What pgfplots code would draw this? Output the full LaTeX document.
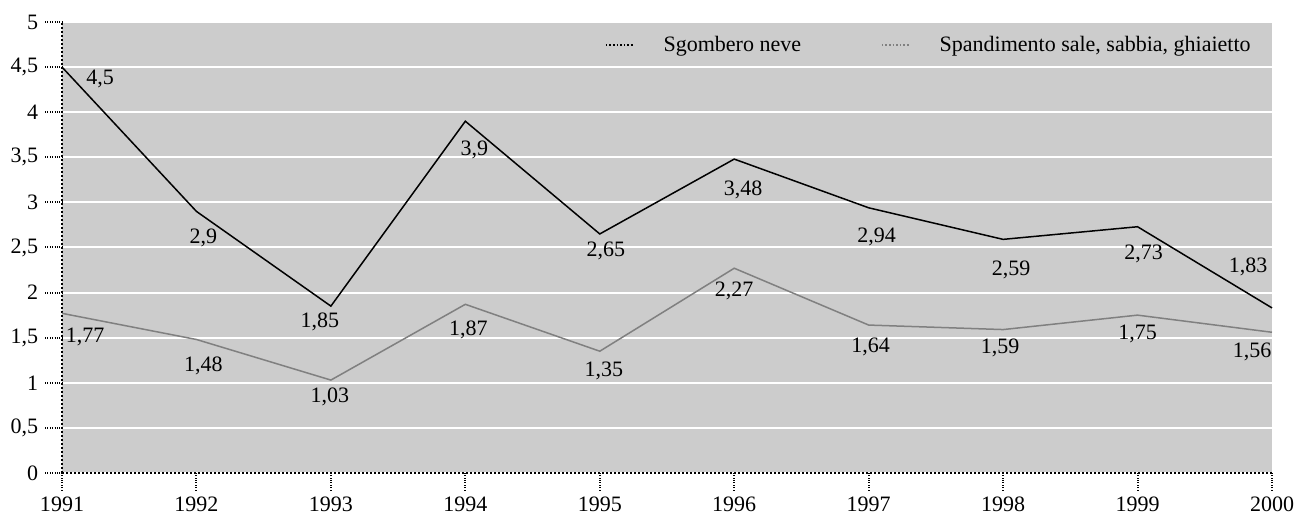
\documentclass[border=0pt]{standalone}
\usepackage{pgfplots}
\pgfplotsset{compat=1.18}
\usepackage{pgfplotstable}
\usepackage{fontspec}
\setmainfont{Liberation Serif}
\definecolor{bg}{RGB}{204,204,204}
\definecolor{ln2}{RGB}{128,128,128}

\pgfplotstableread{
x y dx dy
1991 4.5 19 -6
1992 2.9 3.5 -13.5
1993 1.85 -5.5 -8
1994 3.9 4.5 -14.5
1995 2.65 3 -8.5
1996 3.48 4.5 -15.5
1997 2.94 4 -14.5
1998 2.59 4 -15.5
1999 2.73 3 -13.5
2000 1.83 -12 20.5
}\sgombero

\pgfplotstableread{
x y dx dy
1991 1.77 11.5 -12
1992 1.48 3.5 -13
1993 1.03 -0.5 -8.5
1994 1.87 1.5 -13
1995 1.35 2 -10
1996 2.27 0 -11.5
1997 1.64 1 -11
1998 1.59 -1.5 -9
1999 1.75 0 -9.5
2000 1.56 -10 -10
}\spandimento

\begin{document}
\begin{tikzpicture}
\begin{axis}[
  scale only axis, width=605pt, height=225.5pt,
  xmin=1991, xmax=2000, ymin=0, ymax=5,
  xtick={1991,1992,1993,1994,1995,1996,1997,1998,1999,2000},
  ytick={0,0.5,1,1.5,2,2.5,3,3.5,4,4.5,5},
  axis x line=bottom, axis y line=left,
  axis line style={-, black, densely dotted, line width=1pt},
  tick align=outside, major tick length=8.5pt,
  tick style={black, densely dotted, line width=1pt},
  ymajorgrids, grid style={white, line width=1pt, solid},
  axis background/.style={fill=bg},
  clip=false,
  tick label style={font=\fontsize{11}{13}\selectfont},
  /pgf/number format/use comma,
  /pgf/number format/1000 sep={},
  /pgf/number format/assume math mode=true,
  legend style={at={(rel axis cs:0.986,0.949)}, anchor=east, draw=none, fill=none,
    inner sep=0pt, font=\fontsize{11}{13}\selectfont,
    /tikz/every odd column/.append style={column sep=13pt},
    /tikz/every even column/.append style={column sep=38pt}},
  legend columns=2,
  legend cell align=left,
  legend image code/.code={\draw[#1, densely dotted, line width=0.8pt] (0pt,0pt) -- (13.5pt,0pt);},
  nodes near coords style={anchor=center, font=\fontsize{11}{13}\selectfont, text=black},
]
\addplot[black, line width=0.75pt,
  nodes near coords,
  visualization depends on={\thisrow{dx}\as\dx},
  visualization depends on={\thisrow{dy}\as\dy},
  every node near coord/.append style={xshift=\dx pt, yshift=\dy pt}]
  table[x=x, y=y] {\sgombero};
\addlegendentry{Sgombero neve}
\addplot[ln2, line width=0.75pt,
  nodes near coords,
  visualization depends on={\thisrow{dx}\as\dx},
  visualization depends on={\thisrow{dy}\as\dy},
  every node near coord/.append style={xshift=\dx pt, yshift=\dy pt}]
  table[x=x, y=y] {\spandimento};
\addlegendentry{Spandimento sale, sabbia, ghiaietto}
\end{axis}
\path (current axis.south west) ++(-31pt,-22pt);
\path (current axis.north east) ++(15pt,11pt);
\end{tikzpicture}
\end{document}
